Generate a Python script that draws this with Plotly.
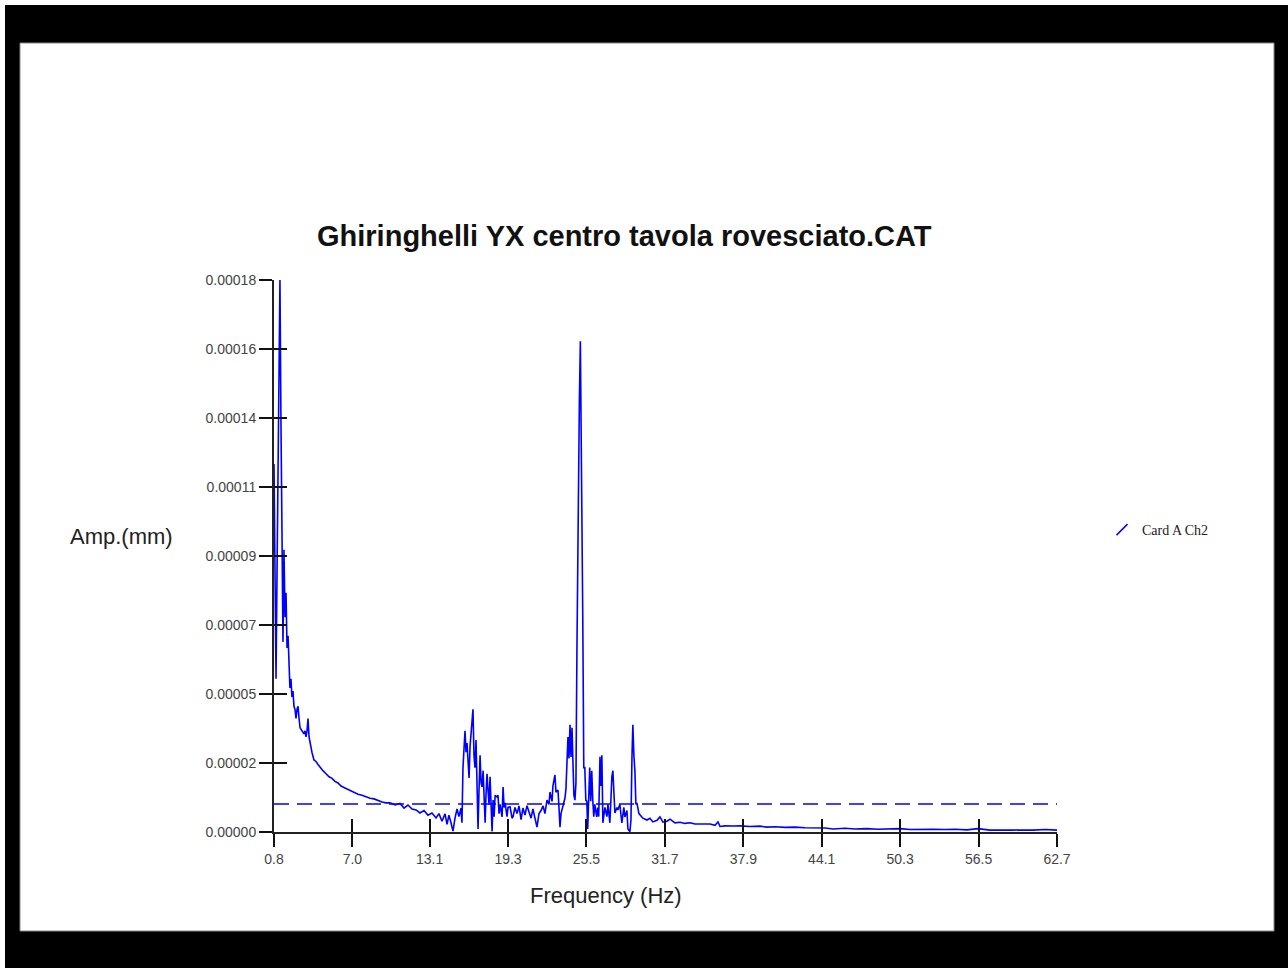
import plotly.graph_objects as go

# ---------------- data ----------------
freq_hz = [
    0.80, 0.88, 0.96, 1.04, 1.16, 1.27, 1.35, 1.43, 1.51, 1.59, 1.67, 1.75, 1.83, 1.91, 1.99,
    2.06, 2.14, 2.22, 2.30, 2.38, 2.46, 2.54, 2.62, 2.70, 2.78, 2.86, 3.01, 3.17, 3.25, 3.33,
    3.41, 3.49, 3.57, 3.64, 3.80, 3.96, 4.12, 4.28, 4.44, 4.67, 4.91, 5.15, 5.39, 5.62, 5.86,
    6.10, 6.33, 6.57, 6.81, 7.12, 7.44, 7.76, 8.07, 8.39, 8.71, 9.02, 9.34, 9.65, 9.97, 10.37,
    10.76, 11.08, 11.39, 11.71, 12.03, 12.34, 12.66, 12.97, 13.29, 13.61, 13.84, 14.08, 14.32, 14.48, 14.63,
    14.79, 14.95, 15.11, 15.27, 15.42, 15.58, 15.66, 15.74, 15.90, 15.98, 16.06, 16.14, 16.22, 16.30, 16.45,
    16.53, 16.61, 16.69, 16.77, 16.85, 16.93, 17.01, 17.09, 17.17, 17.25, 17.33, 17.41, 17.49, 17.56, 17.64,
    17.72, 17.80, 17.88, 17.96, 18.04, 18.12, 18.20, 18.28, 18.43, 18.51, 18.59, 18.67, 18.83, 18.91, 18.99,
    19.07, 19.22, 19.30, 19.46, 19.62, 19.70, 19.85, 20.01, 20.17, 20.33, 20.48, 20.64, 20.80, 20.96, 21.12,
    21.27, 21.43, 21.59, 21.75, 21.91, 22.07, 22.22, 22.38, 22.54, 22.62, 22.78, 22.85, 23.01, 23.09, 23.25,
    23.33, 23.41, 23.49, 23.64, 23.80, 23.88, 23.96, 24.04, 24.12, 24.20, 24.28, 24.36, 24.43, 24.51, 24.59,
    24.67, 24.75, 24.83, 24.94, 25.02, 25.10, 25.21, 25.29, 25.37, 25.45, 25.53, 25.60, 25.68, 25.76, 25.84,
    25.92, 26.00, 26.08, 26.16, 26.31, 26.39, 26.47, 26.57, 26.64, 26.72, 26.80, 26.96, 27.12, 27.20, 27.35,
    27.43, 27.51, 27.59, 27.67, 27.75, 27.91, 27.98, 28.14, 28.30, 28.46, 28.54, 28.70, 28.78, 28.94, 29.02,
    29.10, 29.17, 29.25, 29.33, 29.41, 29.49, 29.65, 29.73, 29.96, 30.28, 30.52, 30.75, 31.08, 31.31, 31.55,
    31.87, 32.11, 32.50, 32.90, 33.29, 33.69, 34.08, 34.48, 34.87, 35.27, 35.66, 35.90, 36.06, 36.45, 37.09,
    37.64, 38.43, 39.22, 39.77, 40.41, 41.20, 41.99, 42.78, 43.57, 44.36, 45.00, 45.94, 46.73, 47.68, 48.55,
    49.50, 50.29, 51.08, 52.03, 52.90, 53.85, 54.64, 55.58, 56.45, 57.40, 58.19, 59.14, 59.93, 60.80, 61.75,
    62.70,
]

# amplitude in nanometres (1e-6 mm)
amp_nm = [
    120, 90, 50, 85, 134, 180, 134, 92, 62, 92, 70, 78, 60, 64, 55,
    47, 50, 44, 46, 41, 40, 37, 40, 41, 37, 34, 33, 32, 33, 31,
    33, 37, 31, 29, 26, 23.5, 23, 22, 21, 20, 19, 18, 17.5, 16.5, 16,
    15, 14.5, 14, 13.5, 13, 12.3, 12, 11.5, 11, 10.8, 10.2, 9.8, 9.5, 9.5, 8.8,
    9.3, 7.8, 8.8, 7.5, 7.2, 6.2, 7.0, 5.5, 6.2, 4.6, 6.0, 3.5, 5.9, 2.5, 5.5,
    3.0, 0.3, 4.5, 7.5, 5.0, 7.8, 3.0, 21, 33, 26, 29, 24.5, 17.6, 28, 37,
    40, 25, 21, 30, 10.4, 1.0, 14, 25, 16, 14.7, 20, 8, 3, 12, 19,
    13.7, 9, 18, 8, 0.2, 10.4, 5, 12, 11.4, 12, 6, 9, 4.9, 14.7, 8,
    9.5, 5, 8, 8.2, 4.5, 5, 8.0, 6, 8.5, 4, 7.8, 5.5, 8.6, 6.5, 4.5,
    7.5, 5, 1.6, 6, 7, 8.5, 6, 10.4, 9, 13, 10, 15, 18.6, 13, 13.7,
    8, 1.6, 6, 8.2, 11, 14, 22, 31, 24, 35, 24.5, 34, 23, 12, 10.4,
    16, 60, 100, 140, 160, 130, 70, 21, 21, 10.4, 10, 1.0, 14, 21, 10,
    20, 10.4, 5, 9, 4.9, 8, 5, 24.5, 15, 25, 3, 8, 5, 9, 3,
    10, 18, 20, 12, 6.2, 8, 7.2, 9, 3, 8, 4.9, 7, 1.0, 0.1, 4,
    24.5, 35, 25, 20, 9, 9.5, 6, 5.5, 4.5, 3.9, 4.5, 3.3, 3.8, 4.9, 3.2,
    3.5, 4.2, 3.0, 3.2, 2.8, 3.0, 2.6, 2.6, 2.4, 2.6, 2.2, 3.3, 1.8, 2.0, 1.96,
    2.0, 1.8, 1.9, 1.6, 1.7, 1.5, 1.6, 1.4, 1.4, 1.3, 1.0, 1.2, 1.0, 1.1, 0.9,
    1.0, 1.1, 0.8, 0.9, 0.9, 0.8, 0.9, 0.7, 1.1, 0.6, 0.7, 0.6, 0.65, 0.6, 0.8,
    0.6,
]

mean_level_nm = 9.1
freq_start_hz = 0.8
freq_end_hz = 62.7

x_tick_vals = [0.8, 7.0, 13.1, 19.3, 25.5, 31.7, 37.9, 44.1, 50.3, 56.5, 62.7]
x_tick_text = ["0.8", "7.0", "13.1", "19.3", "25.5", "31.7", "37.9", "44.1", "50.3", "56.5", "62.7"]
y_tick_vals = [0.0, 0.0000225, 0.000045, 0.0000675, 0.00009, 0.0001125, 0.000135, 0.0001575, 0.00018]
y_tick_text = ["0.00000", "0.00002", "0.00005", "0.00007", "0.00009",
               "0.00011", "0.00014", "0.00016", "0.00018"]

title_text = "Ghiringhelli YX centro tavola rovesciato.CAT"
x_title = "Frequency (Hz)"
y_title = "Amp.(mm)"
series_name = "Card A Ch2"

amp_mm = [v / 1e6 for v in amp_nm]
mean_mm = mean_level_nm / 1e6

# ---------------- figure ----------------
W, H = 1288, 968
L, R, T, B = 274, 231, 280, 136
pw, ph = W - L - R, H - T - B


def px_x(px):
    return (px - L) / pw


def px_y(py):
    return (H - B - py) / ph


BLUE = "#0000FF"
SANS = "Liberation Sans, Arial, sans-serif"
Y_RANGE = [0, 0.00018]

fig = go.Figure()
fig.add_trace(go.Scatter(
    x=freq_hz, y=amp_mm, mode="lines",
    line=dict(color=BLUE, width=1.6), showlegend=False, hoverinfo="x+y",
))
# mean level line, drawn on the overlay axes that carry the inner tick halves
fig.add_trace(go.Scatter(
    x=[freq_start_hz, freq_end_hz], y=[mean_mm, mean_mm], mode="lines",
    xaxis="x2", yaxis="y2",
    line=dict(color=BLUE, width=1.5, dash="15px,8px"), showlegend=False,
))
fig.add_trace(go.Scatter(
    x=[None], y=[None], mode="markers", name=series_name,
    marker=dict(symbol="line-ne", size=11, color=BLUE, line=dict(color=BLUE, width=1.5)),
))

tick_common = dict(ticklen=13, tickwidth=1.5, tickcolor="#111", showgrid=False, zeroline=False)

fig.update_layout(
    width=W, height=H, autosize=False,
    margin=dict(l=L, r=R, t=T, b=B, pad=0),
    paper_bgcolor="black", plot_bgcolor="white",
    font=dict(family=SANS, color="#333"),
    xaxis=dict(range=[freq_start_hz, freq_end_hz], showline=True, linecolor="#222", linewidth=2,
               ticks="outside", tickmode="array", tickvals=x_tick_vals, ticktext=x_tick_text,
               tickfont=dict(size=14, color="#444", family=SANS), **tick_common),
    yaxis=dict(range=Y_RANGE, showline=True, linecolor="#222", linewidth=2,
               ticks="outside", tickmode="array", tickvals=y_tick_vals, ticktext=y_tick_text,
               tickfont=dict(size=14, color="#444", family=SANS), **tick_common),
    xaxis2=dict(range=[freq_start_hz, freq_end_hz], overlaying="x", anchor="y2", side="bottom",
                ticks="inside", tickmode="array", tickvals=x_tick_vals, showticklabels=False,
                showline=False, **tick_common),
    yaxis2=dict(range=Y_RANGE, overlaying="y", anchor="x2", side="left",
                ticks="inside", tickmode="array", tickvals=y_tick_vals, showticklabels=False,
                showline=False, **tick_common),
    legend=dict(x=px_x(1102), y=px_y(530), xanchor="left", yanchor="middle",
                bgcolor="rgba(0,0,0,0)", font=dict(family="Liberation Serif, Times New Roman, serif",
                                                   size=14, color="#222")),
    shapes=[
        dict(type="rect", xref="paper", yref="paper", layer="below",
             x0=px_x(0), x1=px_x(5), y0=px_y(H), y1=px_y(0),
             fillcolor="white", line=dict(width=0)),
        dict(type="rect", xref="paper", yref="paper", layer="below",
             x0=px_x(0), x1=px_x(W), y0=px_y(5), y1=px_y(0),
             fillcolor="white", line=dict(width=0)),
        dict(type="rect", xref="paper", yref="paper", layer="below",
             x0=px_x(20), x1=px_x(1274), y0=px_y(931), y1=px_y(43),
             fillcolor="white", line=dict(color="#888", width=1)),
    ],
    annotations=[
        dict(text=f"<b>{title_text}</b>", xref="paper", yref="paper", x=px_x(624), y=px_y(236),
             xanchor="center", yanchor="middle", showarrow=False,
             font=dict(family=SANS, size=29, color="#111")),
        dict(text=x_title, xref="paper", yref="paper", x=px_x(606), y=px_y(895),
             xanchor="center", yanchor="middle", showarrow=False,
             font=dict(family=SANS, size=22, color="#222")),
        dict(text=y_title, xref="paper", yref="paper", x=px_x(121), y=px_y(536),
             xanchor="center", yanchor="middle", showarrow=False,
             font=dict(family=SANS, size=22, color="#222")),
    ],
)

fig.write_html(
    "out.html",
    config={"displayModeBar": False},
    post_script="document.body.style.margin='0px';document.body.style.overflow='hidden';",
)
